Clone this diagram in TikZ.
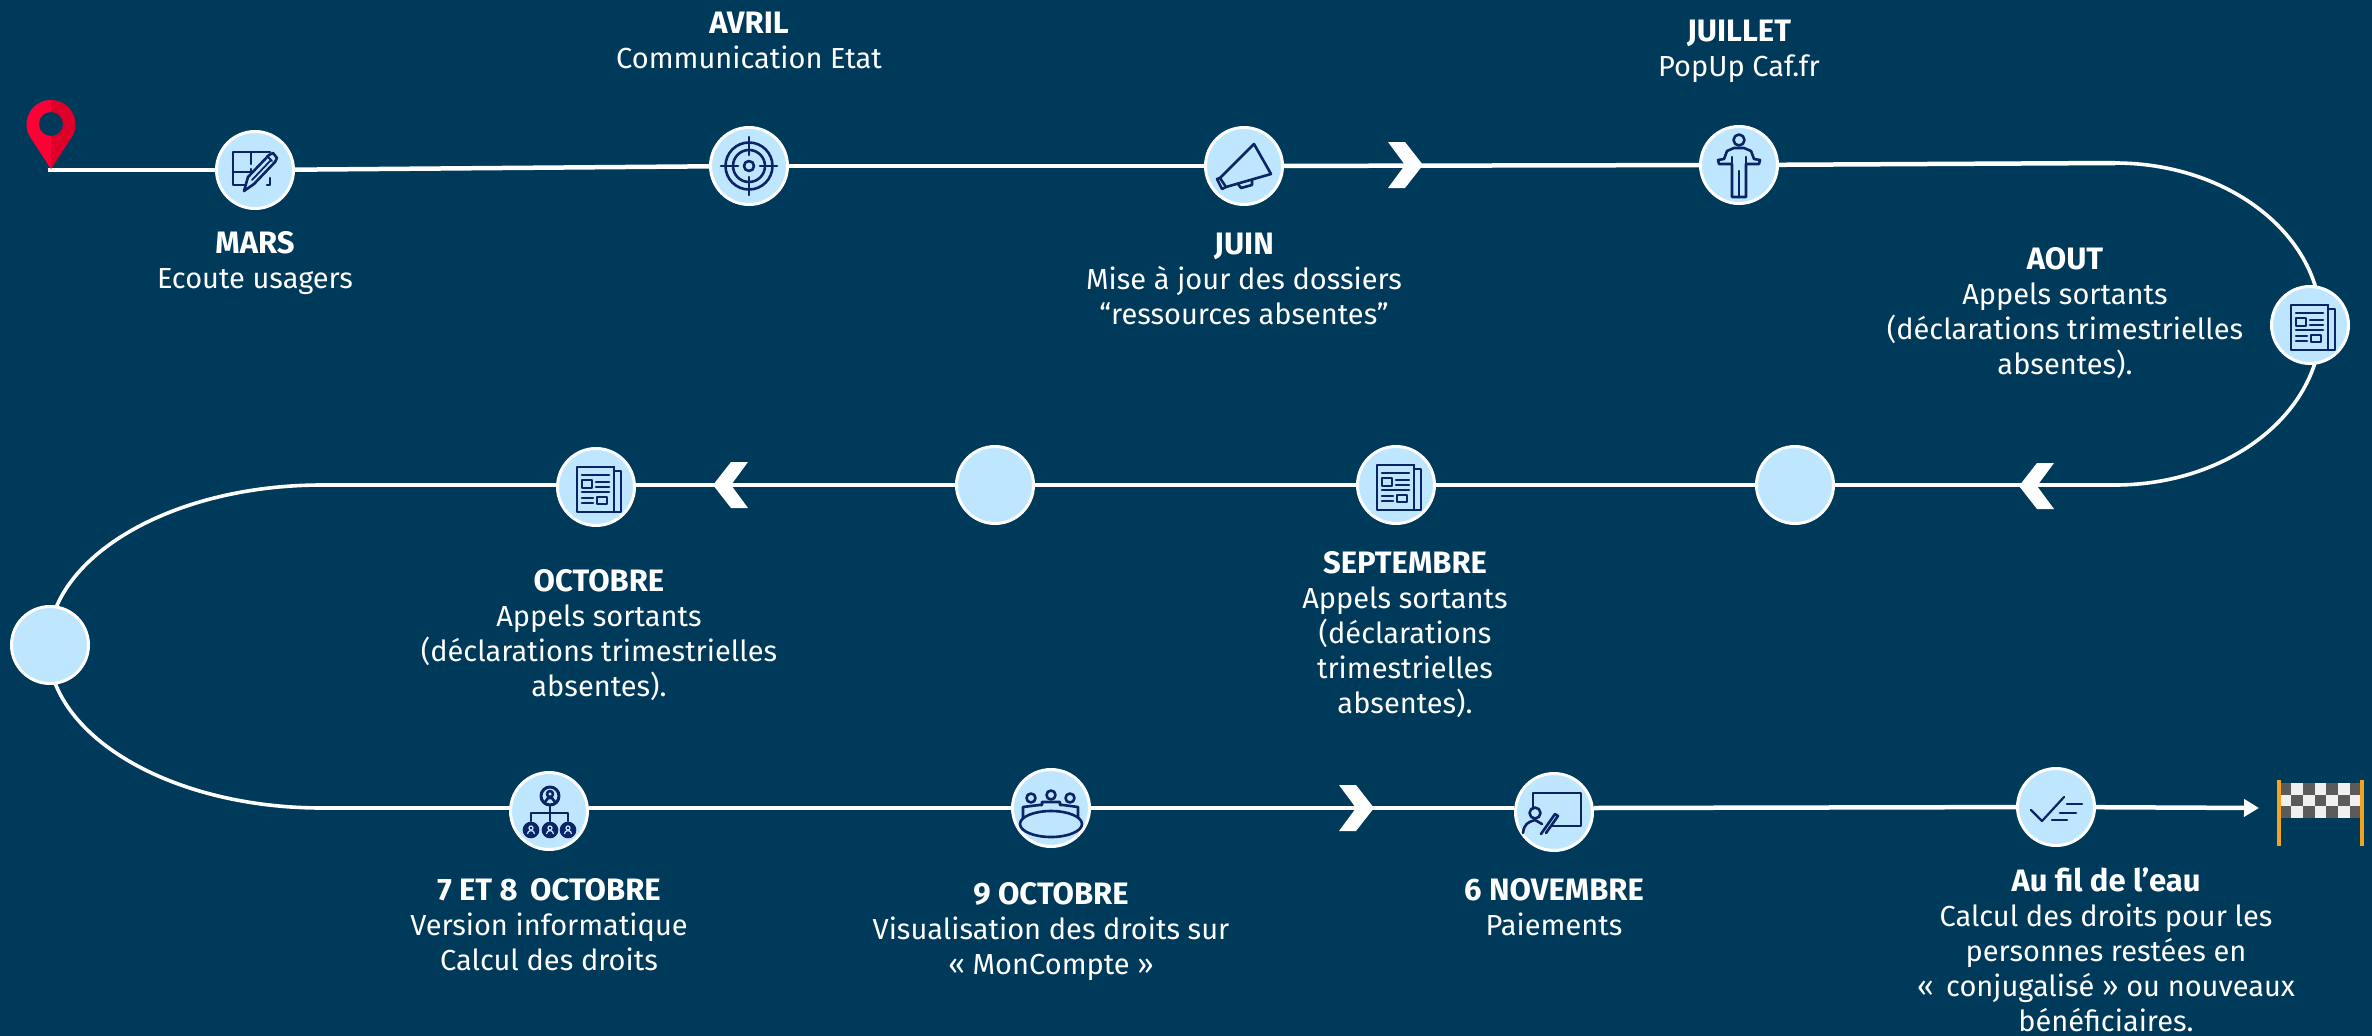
\documentclass[tikz,border=0pt]{standalone}
\usepackage{fontspec}
\setmainfont{Fira Sans}
\usetikzlibrary{positioning,arrows.meta}
\definecolor{bgblue}{HTML}{003A5A}
\definecolor{dotblue}{HTML}{BFE6FF}
\definecolor{inkblue}{HTML}{0A2464}
\definecolor{pinred}{HTML}{FF0036}
\definecolor{pindark}{HTML}{DF0029}
\definecolor{flagpole}{HTML}{F5A31A}
\definecolor{flagdark}{HTML}{5B5B5B}
\definecolor{flaglight}{HTML}{F0F0F0}
\newcommand{\ttl}[1]{{\bfseries\fontsize{31}{35}\selectfont #1}}
\tikzset{
    icon/.style={draw=inkblue,line width=2.6pt,line join=round,line cap=round},
    chevron/.pic={\fill[white] (-35,-23) -- (-18,-23) -- (0,0) -- (-18,23) -- (-35,23) -- (-18,0) -- cycle;},
    icplan/.pic={
        \draw[icon] (15,-18) -- (-22,-18) -- (-22,15) -- (-8,15);
        \draw[icon] (-4,-18) -- (-4,-6) (-4,-1) -- (-4,2) -- (-22,2);
        \draw[icon] (12,15) -- (15,15) -- (15,8);
        \draw[icon,fill=dotblue] (-7,7) -- (14,-15) -- (18,-17) -- (22,-12) -- (20,-8) -- (-1,14) -- (-11,21) -- cycle;
        \draw[icon,line width=1.8pt] (-3,10) -- (16,-10) (12,-14) -- (17,-9);
    },
    ictarget/.pic={
        \draw[icon] (0,0) circle (23.5) (0,0) circle (16) (0,0) circle (5);
        \draw[icon] (-28,0) -- (-11,0) (11,0) -- (28,0) (0,-29) -- (0,-11) (0,11) -- (0,29);
    },
    icmegaphone/.pic={
        \draw[icon] (10,-22) -- (27,8) -- (-18,21) -- (-24,12) -- cycle;
        \draw[icon] (-24,12) -- (-27,13) -- (-22,23) -- (-18,21);
        \draw[icon] (-6,18) -- (-3,22) -- (8,19) -- (8,14);
    },
    icperson/.pic={
        \draw[icon] (0,-25) circle (5.5);
        \draw[icon] (-7,32) -- (-7,-1) -- (-20,-1) -- (-21,-5) -- (-15,-6) -- (-12,-14) -- (-5,-17) -- (5,-17) -- (12,-14) -- (15,-6) -- (21,-5) -- (20,-1) -- (7,-1) -- (7,32) -- cycle;
        \draw[icon] (0,6) -- (0,32) (-7,-8) -- (-7,-1) (7,-8) -- (7,-1);
    },
    icnews/.pic={
        \draw[icon] (18,-20) -- (-19,-20) -- (-19,25) -- (25,25) -- (25,-16) -- (18,-16);
        \draw[icon] (18,-20) -- (18,25);
        \draw[icon] (-14,-12) -- (13,-12) (0,-5) -- (13,-5) (0,0) -- (13,0) (-14,5) -- (13,5);
        \draw[icon] (-14,-7) rectangle (-4,1) (1,10) rectangle (11,17);
        \draw[icon] (-14,11) -- (-3,11) (-14,16) -- (-3,16);
    },
    icpeople/.pic={
        \draw[icon,fill=inkblue] (0,0) circle (7);
        \draw[dotblue,line width=1.2pt] (0,-2) circle (2) (-3.5,4) arc[start angle=180,end angle=360,radius=3.5];
    },
    icorg/.pic={
        \draw[icon,line width=3pt] (1,-15) circle (9);
        \draw[icon] (1,-15) ++(0,-2) circle (3) (1,-15) ++(-5,6) -- ++(3,-4) -- ++(4,0) -- ++(3,4);
        \draw[icon] (1,-6) -- (1,10) (-18,10) -- (-18,2) -- (19,2) -- (19,10);
        \pic at (-18,19) {icpeople};
        \pic at (1,19) {icpeople};
        \pic at (19,19) {icpeople};
    },
    icmeeting/.pic={
        \draw[icon] (-20,-10) circle (4.5) (0,-13) circle (4.5) (19,-10) circle (4.5);
        \draw[icon] (-28,10) -- (-28,-1) -- (-12,-3) -- (-9,-3) -- (-9,-6) -- (9,-6) -- (9,-3) -- (12,-3) -- (27,-1) -- (27,10);
        \draw[icon,fill=dotblue] (0,16) ellipse (31 and 13);
    },
    icboard/.pic={
        \draw[icon] (-21,-3) -- (-21,-19) -- (27,-19) -- (27,14) -- (-3,14);
        \draw[icon] (-19,1) circle (5.5);
        \draw[icon] (-31,21) .. controls (-30,12) and (-26,10) .. (-19,8) -- (-12,12);
        \draw[icon] (-13,22) -- (1,2) -- (4,4) -- (-8,21);
    },
    iccheck/.pic={
        \draw[icon,line width=2.2pt] (-25,3) -- (-14,14) -- (8,-10);
        \draw[icon] (11,-3) -- (26,-3) (4,6) -- (20,6) (-4,13) -- (11,13);
    },
}
\begin{document}
\begin{tikzpicture}[x=1pt,y=-1pt,
        trail/.style={draw=white,line width=4.5pt},
        stopdot/.style={circle,draw=white,fill=dotblue,line width=3pt,minimum size=77pt,inner sep=0pt},
        lbl/.style={text=white,align=center,inner sep=0pt,font=\fontsize{29}{35}\selectfont}]
    \useasboundingbox (0,0) rectangle (2372,1036);
    \fill[bgblue] (0,0) rectangle (2372,1036);
    % the two bends pass behind their dots
    \coordinate (rtop) at (2115,163);
    \coordinate (rbot) at (2115,485);
    \coordinate (ltop) at (322,485);
    \coordinate (lbot) at (322,808);
    \draw[trail,line width=3.6pt] (rtop) arc[start angle=-90,end angle=90,x radius=206,y radius=161];
    \draw[trail,line width=3.6pt] (ltop) arc[start angle=-90,end angle=-270,x radius=274,y radius=161.5];
    % stops
    \coordinate (start) at (48,170);
    \node[stopdot] (mars) at (255,170) {};
    \node[stopdot] (avril) at (749,166) {};
    \node[stopdot] (juin) at (1244,166) {};
    \node[stopdot] (juil) at (1739,165) {};
    \node[stopdot] (aout) at (2310,325) {};
    \node[stopdot] (blanka) at (1795,485) {};
    \node[stopdot] (sept) at (1396,485) {};
    \node[stopdot] (blankb) at (995,485) {};
    \node[stopdot] (oct) at (596,487) {};
    \node[stopdot] (blankc) at (50,645) {};
    \node[stopdot] (vers) at (549,811) {};
    \node[stopdot] (droits) at (1051,808) {};
    \node[stopdot] (paie) at (1554,812) {};
    \node[stopdot] (fil) at (2056,807) {};
    \coordinate (end) at (2259,808);
    % trail
    \draw[trail] (start) -- (mars);
    \draw[trail] (mars) -- (avril);
    \draw[trail] (avril) -- (juin);
    \draw[trail] (juin) -- (juil);
    \draw[trail] (juil) -- (rtop);
    \draw[trail] (rbot) -- (blanka);
    \draw[trail] (blanka) -- (sept);
    \draw[trail] (sept) -- (blankb);
    \draw[trail] (blankb) -- (oct.east |- ltop);
    \draw[trail] (oct.west |- ltop) -- (ltop);
    \draw[trail] (lbot) -- (vers.west |- lbot);
    \draw[trail] (vers.east |- lbot) -- (droits);
    \draw[trail] (droits) -- (paie.west |- droits);
    \draw[trail] (paie.east |- droits) -- (fil);
    \draw[trail,-{Triangle[length=15pt,width=17pt]}] (fil) -- (end);
    \pic at (1423,165) {chevron};
    \pic[xscale=-1] at (2019,486) {chevron};
    \pic[xscale=-1] at (713,485) {chevron};
    \pic at (1374,808) {chevron};
    % icons
    \pic at (mars) {icplan};
    \pic at (avril) {ictarget};
    \pic at (juin) {icmegaphone};
    \pic at (juil) {icperson};
    \pic at (aout) {icnews};
    \pic at (sept) {icnews};
    \pic at (oct) {icnews};
    \pic at (vers) {icorg};
    \pic at (droits) {icmeeting};
    \pic at (paie) {icboard};
    \pic at (fil) {iccheck};
    % pin
    \fill[pinred] (51,100) arc[start angle=-90,end angle=-205,radius=24.5] -- (51,169) -- cycle;
    \fill[pindark] (51,100) arc[start angle=-90,end angle=25,radius=24.5] -- (51,169) -- cycle;
    \fill[bgblue] (51,124) circle (12);
    % flag
    \foreach \col in {0,...,6} {
        \foreach \row in {0,1,2} {
            \pgfmathparse{int(mod(\col+\row,2))}
            \ifnum\pgfmathresult=0
                \fill[flagdark] ({2279+\col*11.86},{783+\row*11.7}) rectangle ++(11.86,11.7);
            \else
                \fill[flaglight] ({2279+\col*11.86},{783+\row*11.7}) rectangle ++(11.86,11.7);
            \fi
        }
    }
    \draw[flagpole,line width=4pt] (2279,780) -- (2279,846);
    \draw[flagpole,line width=4pt] (2362,780) -- (2362,846);
    % labels
    \node[lbl,below = 21pt of mars] (tmars) {\ttl{MARS}\\Ecoute usagers};
    \node[lbl,above = 57pt of avril] (tavril) {\ttl{AVRIL}\\Communication Etat};
    \node[lbl,below = 27pt of juin] (tjuin) {\ttl{JUIN}\\Mise à jour des dossiers\\“ressources absentes”};
    \node[lbl,above = 42pt of juil] (tjuil) {\ttl{JUILLET}\\PopUp Caf.fr};
    \node[lbl] (taout) at (2065,313) {\ttl{AOUT}\\Appels sortants\\(déclarations trimestrielles\\absentes).};
    \node[lbl] (tsept) at (1405,635) {\ttl{SEPTEMBRE}\\Appels sortants\\(déclarations\\trimestrielles\\absentes).};
    \node[lbl] (toct) at (599,635) {\ttl{OCTOBRE}\\Appels sortants\\(déclarations trimestrielles\\absentes).};
    \node[lbl,below = 27pt of vers] (tvers) {\ttl{7 ET 8 \,OCTOBRE}\\Version informatique\\Calcul des droits};
    \node[lbl,below = 34pt of droits] (tdroits) {\ttl{9 OCTOBRE}\\Visualisation des droits sur\\« MonCompte »};
    \node[lbl,below = 26pt of paie] (tpaie) {\ttl{6 NOVEMBRE}\\Paiements};
    \node[lbl] (tfil) at (2106,950) {\ttl{Au fil de l’eau}\\Calcul des droits pour les\\personnes restées en\\«\, conjugalisé » ou nouveaux\\bénéficiaires.};
\end{tikzpicture}
\end{document}
